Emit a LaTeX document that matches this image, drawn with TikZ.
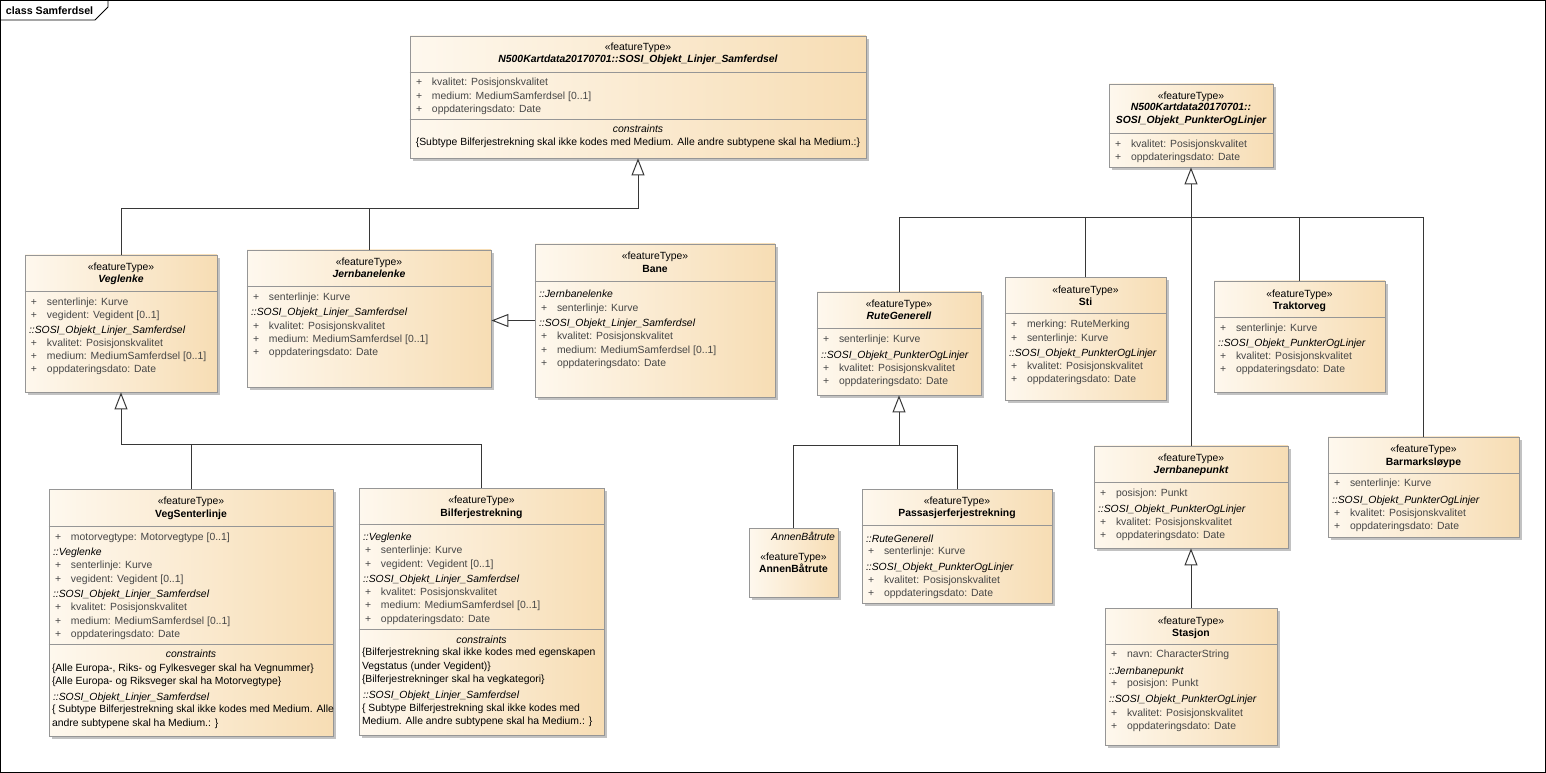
\documentclass[tikz,border=0pt]{standalone}
\usepackage{fontspec}
\setmainfont{Liberation Sans}
\usetikzlibrary{arrows.meta,shadows,fit}
\definecolor{boxL}{RGB}{254,248,238}
\definecolor{boxR}{RGB}{247,221,180}
\definecolor{boxline}{RGB}{150,150,150}
\definecolor{conn}{RGB}{55,55,55}
\definecolor{attrc}{RGB}{70,70,70}
\newcommand\fs{\fontsize{7.8}{9.4}\selectfont}
\newcounter{tn}
\newcommand\tx[4][]{\stepcounter{tn}\node[txt,#1] (t\arabic{tn}) at (#2,#3) {#4};}
\newcommand\cls[5]{\path (#2,#3) coordinate (#1-nw) (#4,#5) coordinate (#1-se);
  \node[clsbox, fit=(#1-nw)(#1-se)] (#1) {};
  \def\bxL{#2}\def\bxR{#4}\pgfmathsetmacro\bxC{(#2+#4)/2}}
\newcommand\dv[2]{\draw[divline] (#1.west |- 0,#2) -- (#1.east |- 0,#2);}
\newcommand\st[1]{\tx{\bxC}{#1}{«featureType»}}
\newcommand\nm[2]{\tx[font=\fs\bfseries]{\bxC}{#1}{#2}}
\newcommand\nmi[2]{\tx[font=\fs\bfseries\itshape]{\bxC}{#1}{#2}}
\newcommand\at[2]{\tx[anchor=west,text=attrc]{\bxL+6}{#1}{\makebox[12pt][l]{+}#2}}
\newcommand\grp[2]{\tx[anchor=west,font=\fs\itshape]{\bxL+4}{#1}{#2}}
\newcommand\cn[2]{\tx[anchor=west]{\bxL+3}{#1}{#2}}
\newcommand\ctr[2]{\tx{\bxC}{#1}{#2}}
\newcommand\ctri[2]{\tx[font=\fs\itshape]{\bxC}{#1}{#2}}
\begin{document}
\begin{tikzpicture}[x=0.75pt,y=-0.75pt,
  txt/.style={inner sep=0pt, outer sep=0pt, font=\fs, text height=6.4pt, text depth=1.2pt},
  clsbox/.style={draw=boxline, line width=0.6pt, left color=boxL, right color=boxR, inner sep=0pt,
    drop shadow={shadow xshift=2.25pt, shadow yshift=-2.25pt, opacity=0.4, fill=black!60}},
  divline/.style={draw=boxline, line width=0.6pt},
  cline/.style={draw=conn, line width=0.75pt},
  gen/.style={cline, -{Triangle[open, length=12.75pt, width=9.75pt, fill=white]}},
  frame/.style={draw=black, line width=0.6pt}]
\useasboundingbox (0,0) rectangle (1546,773);
\draw[frame] (0.5,0.5) rectangle (1545.5,772.5);
\draw[frame] (0.5,20) -- (95,20) -- (108,7) -- (108,0.5);
\node[txt, anchor=west, font=\fontsize{8}{9.6}\selectfont\bfseries] (title) at (6,11) {class Samferdsel};

% A
\cls{lin}{410}{36}{866}{158}
\st{47} \nmi{59.5}{N500Kartdata20170701::SOSI\_Objekt\_Linjer\_Samferdsel}
\dv{lin}{72}
\at{82.5}{kvalitet: Posisjonskvalitet}
\at{96}{medium: MediumSamferdsel [0..1]}
\at{109.5}{oppdateringsdato: Date}
\dv{lin}{119}
\ctri{129.5}{constraints}
\ctr{142.5}{\{Subtype Bilferjestrekning skal ikke kodes med Medium. Alle andre subtypene skal ha Medium.:\}}

% B
\cls{pol}{1109}{84}{1273}{167}
\st{96} \nmi{107.5}{N500Kartdata20170701::} \nmi{120}{SOSI\_Objekt\_PunkterOgLinjer}
\dv{pol}{133}
\at{144}{kvalitet: Posisjonskvalitet}
\at{157}{oppdateringsdato: Date}

% C
\cls{veglenke}{25}{255}{217}{392}
\st{267} \nmi{279.5}{Veglenke} \dv{veglenke}{291.5}
\at{302}{senterlinje: Kurve} \at{315.5}{vegident: Vegident [0..1]}
\grp{330}{::SOSI\_Objekt\_Linjer\_Samferdsel}
\at{343}{kvalitet: Posisjonskvalitet} \at{356}{medium: MediumSamferdsel [0..1]} \at{369}{oppdateringsdato: Date}

% D
\cls{jbl}{247}{250}{491}{387}
\st{262} \nmi{274.5}{Jernbanelenke} \dv{jbl}{286.5}
\at{297.5}{senterlinje: Kurve}
\grp{312.5}{::SOSI\_Objekt\_Linjer\_Samferdsel}
\at{326}{kvalitet: Posisjonskvalitet} \at{339.5}{medium: MediumSamferdsel [0..1]} \at{352.5}{oppdateringsdato: Date}

% E
\cls{bane}{535}{244}{775}{397}
\st{256.5} \nm{269.5}{Bane} \dv{bane}{281.5}
\grp{294.5}{::Jernbanelenke} \at{308}{senterlinje: Kurve}
\grp{323}{::SOSI\_Objekt\_Linjer\_Samferdsel}
\at{336.5}{kvalitet: Posisjonskvalitet} \at{350}{medium: MediumSamferdsel [0..1]} \at{363}{oppdateringsdato: Date}

% F
\cls{vsl}{49}{489}{333}{736}
\st{501.5} \nm{514}{VegSenterlinje} \dv{vsl}{526.5}
\at{537.5}{motorvegtype: Motorvegtype [0..1]}
\grp{552.5}{::Veglenke}
\at{565.5}{senterlinje: Kurve} \at{579}{vegident: Vegident [0..1]}
\grp{594.5}{::SOSI\_Objekt\_Linjer\_Samferdsel}
\at{607.5}{kvalitet: Posisjonskvalitet} \at{621}{medium: MediumSamferdsel [0..1]} \at{634}{oppdateringsdato: Date}
\dv{vsl}{644.5}
\ctri{654.5}{constraints}
\cn{668}{\{Alle Europa-, Riks- og Fylkesveger skal ha Vegnummer\}}
\cn{681.5}{\{Alle Europa- og Riksveger skal ha Motorvegtype\}}
\grp{697}{::SOSI\_Objekt\_Linjer\_Samferdsel}
\cn{709.5}{\{ Subtype Bilferjestrekning skal ikke kodes med Medium. Alle}
\cn{723}{andre subtypene skal ha Medium.: \}}

% G
\cls{bfs}{359}{488}{604}{735}
\st{500.5} \nm{513}{Bilferjestrekning} \dv{bfs}{524.5}
\grp{537.5}{::Veglenke}
\at{550.5}{senterlinje: Kurve} \at{564}{vegident: Vegident [0..1]}
\grp{579.5}{::SOSI\_Objekt\_Linjer\_Samferdsel}
\at{592.5}{kvalitet: Posisjonskvalitet} \at{605.5}{medium: MediumSamferdsel [0..1]} \at{619}{oppdateringsdato: Date}
\dv{bfs}{629.5}
\ctri{640}{constraints}
\cn{652.5}{\{Bilferjestrekning skal ikke kodes med egenskapen}
\cn{666}{Vegstatus (under Vegident)\}}
\cn{679}{\{Bilferjestrekninger skal ha vegkategori\}}
\grp{695}{::SOSI\_Objekt\_Linjer\_Samferdsel}
\cn{708}{\{ Subtype Bilferjestrekning skal ikke kodes med}
\cn{721}{Medium. Alle andre subtypene skal ha Medium.: \}}

% H
\cls{rute}{817}{292}{981}{395}
\st{304} \nmi{316}{RuteGenerell} \dv{rute}{328.5}
\at{339.5}{senterlinje: Kurve}
\grp{355}{::SOSI\_Objekt\_PunkterOgLinjer}
\at{368}{kvalitet: Posisjonskvalitet} \at{381}{oppdateringsdato: Date}

% I
\cls{sti}{1005}{277.5}{1166}{400}
\st{290.5} \nm{302.5}{Sti} \dv{sti}{313.5}
\at{324.5}{merking: RuteMerking} \at{338}{senterlinje: Kurve}
\grp{353.5}{::SOSI\_Objekt\_PunkterOgLinjer}
\at{366.5}{kvalitet: Posisjonskvalitet} \at{379.5}{oppdateringsdato: Date}

% J
\cls{trak}{1214}{281}{1385}{392}
\st{294} \nm{306}{Traktorveg} \dv{trak}{317}
\at{328}{senterlinje: Kurve}
\grp{343.5}{::SOSI\_Objekt\_PunkterOgLinjer}
\at{356.5}{kvalitet: Posisjonskvalitet} \at{369.5}{oppdateringsdato: Date}

% K
\cls{annen}{749}{528}{838}{597}
\tx[anchor=east,font=\fs\itshape]{835}{537.5}{AnnenBåtrute}
\st{557} \nm{569.5}{AnnenBåtrute}

% L
\cls{pass}{862}{489}{1052}{603}
\st{501} \nm{513.5}{Passasjerferjestrekning} \dv{pass}{525}
\grp{539}{::RuteGenerell} \at{551.5}{senterlinje: Kurve}
\grp{567.5}{::SOSI\_Objekt\_PunkterOgLinjer}
\at{580}{kvalitet: Posisjonskvalitet} \at{593.5}{oppdateringsdato: Date}

% M
\cls{jbp}{1094}{446}{1288}{548}
\st{458} \nmi{470}{Jernbanepunkt} \dv{jbp}{482.5}
\at{493}{posisjon: Punkt}
\grp{509}{::SOSI\_Objekt\_PunkterOgLinjer}
\at{522}{kvalitet: Posisjonskvalitet} \at{535}{oppdateringsdato: Date}

% N
\cls{barm}{1328}{437}{1519}{537}
\st{449.5} \nm{462.5}{Barmarksløype} \dv{barm}{473}
\at{483.5}{senterlinje: Kurve}
\grp{500}{::SOSI\_Objekt\_PunkterOgLinjer}
\at{513}{kvalitet: Posisjonskvalitet} \at{526}{oppdateringsdato: Date}

% O
\cls{stas}{1105}{608}{1277}{745}
\st{621.5} \nm{633.5}{Stasjon} \dv{stas}{644.5}
\at{654.5}{navn: CharacterString}
\grp{671}{::Jernbanepunkt} \at{683.5}{posisjon: Punkt}
\grp{699.5}{::SOSI\_Objekt\_PunkterOgLinjer}
\at{713}{kvalitet: Posisjonskvalitet} \at{726}{oppdateringsdato: Date}

% connectors
\draw[gen] (veglenke.north) |- (lin.south |- 0,209) -- (lin.south);
\draw[cline] (jbl.north) -- (jbl.north |- 0,209);
\draw[gen] (bane.west) -- (jbl.east |- bane.west);
\draw[gen] (bfs.north) |- (veglenke.south |- 0,445) -- (veglenke.south);
\draw[cline] (vsl.north) -- (vsl.north |- 0,445);
\draw[gen] (rute.north) |- (pol.south |- 0,218) -- (pol.south);
\draw[cline] (barm.north) |- (pol.south |- 0,218);
\draw[cline] (sti.north) -- (sti.north |- 0,218);
\draw[cline] (trak.north) -- (trak.north |- 0,218);
\draw[cline] (jbp.north) -- (pol.south |- 0,218);
\draw[gen] (annen.north) |- (rute.south |- 0,446) -- (rute.south);
\draw[cline] (pass.north) |- (rute.south |- 0,446);
\draw[gen] (stas.north) -- (jbp.south);
\end{tikzpicture}
\end{document}
